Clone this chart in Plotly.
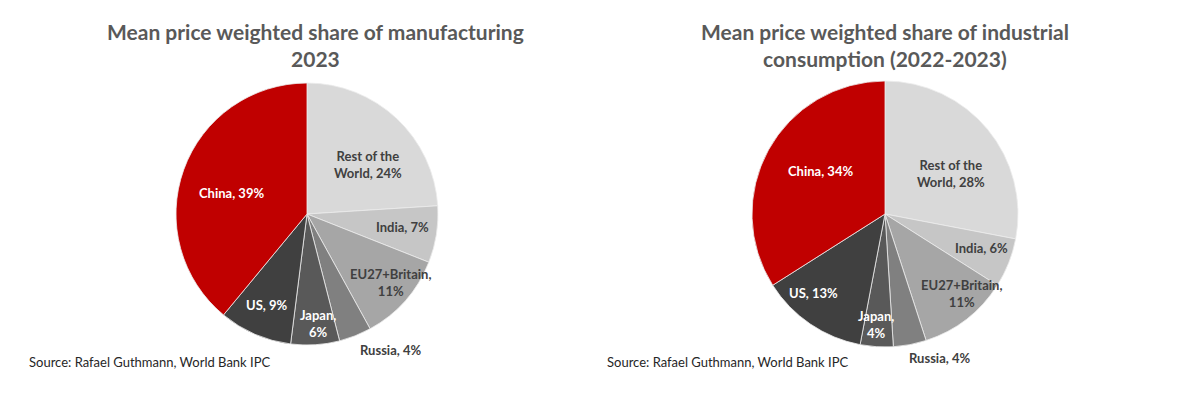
import math
import plotly.graph_objects as go

categories = ["Rest of the World", "India", "EU27+Britain", "Russia", "Japan", "US", "China"]
label_lines = ["Rest of the<br>World, {v}%", "India, {v}%", "EU27+Britain,<br>{v}%", "Russia, {v}%",
               "Japan,<br>{v}%", "US, {v}%", "China, {v}%"]
manufacturing_2023 = [24, 7, 11, 4, 6, 9, 39]
industrial_consumption = [28, 6, 11, 4, 4, 13, 34]

titles = ["Mean price weighted share of manufacturing<br>2023",
          "Mean price weighted share of industrial<br>consumption (2022-2023)"]
source = "Source: Rafael Guthmann, World Bank IPC"

# styles
colors = ["#d9d9d9", "#c6c6c6", "#a6a6a6", "#808080", "#595959", "#404040", "#c00000"]
text_colors = ["#404040", "#404040", "#404040", "#404040", "#ffffff", "#ffffff", "#ffffff"]
# per-chart label placement: (radius fraction, angle nudge in degrees)
label_place = [
    [(0.60, 8), (0.74, -1), (0.82, -2), (1.22, -10), (0.84, -2), (0.76, 0), (0.60, -4)],
    [(0.58, 8), (0.77, -2), (0.83, -6), (1.16, -10), (0.83, 1), (0.80, 8), (0.58, 5)],
]

OFF = 8  # page body margin
W, H = 1192, 385
pies = [dict(vals=manufacturing_2023, cx=307, cy=214, r=131, tx=315),
        dict(vals=industrial_consumption, cx=885, cy=214, r=133, tx=885)]

fig = go.Figure()
for k, p in enumerate(pies):
    cx, cy, r = p["cx"] - OFF, p["cy"] - OFF, p["r"]
    fig.add_trace(go.Pie(
        labels=categories, values=p["vals"], textinfo="none",
        sort=False, direction="clockwise", rotation=0,
        marker=dict(colors=colors, line=dict(color="#ececec", width=0.8)),
        domain=dict(x=[(cx - r) / W, (cx + r) / W], y=[1 - (cy + r) / H, 1 - (cy - r) / H]),
        showlegend=False, hoverinfo="label+percent",
    ))
    total = sum(p["vals"])
    cum = 0
    for i, v in enumerate(p["vals"]):
        mid = (cum + v / 2) / total * 360
        cum += v
        f, nudge = label_place[k][i]
        th = math.radians(mid + nudge)
        lx = cx + f * r * math.sin(th)
        ly = cy - f * r * math.cos(th)
        fig.add_annotation(text="<b>" + label_lines[i].format(v=v) + "</b>",
                           x=lx / W, y=1 - ly / H, xref="paper", yref="paper",
                           xanchor="center", yanchor="middle", showarrow=False, align="center",
                           font=dict(family="Lato", size=13, color=text_colors[i]))
    fig.add_annotation(text=f"<b>{titles[k]}</b>", x=(p["tx"] - OFF) / W, y=1 - (17 - OFF) / H,
                       xref="paper", yref="paper", xanchor="center", yanchor="top",
                       showarrow=False, align="center",
                       font=dict(family="Lato", size=21, color="#595959"))

for sx in [27, 605]:
    fig.add_annotation(text=source, x=(sx - OFF) / W, y=1 - (362 - OFF) / H, xref="paper", yref="paper",
                       xanchor="left", yanchor="middle", showarrow=False,
                       font=dict(family="Lato", size=13, color="#262626"))

fig.update_layout(width=W, height=H, margin=dict(l=0, r=0, t=0, b=0),
                  paper_bgcolor="white", plot_bgcolor="white")
fig.write_html("out.html")
